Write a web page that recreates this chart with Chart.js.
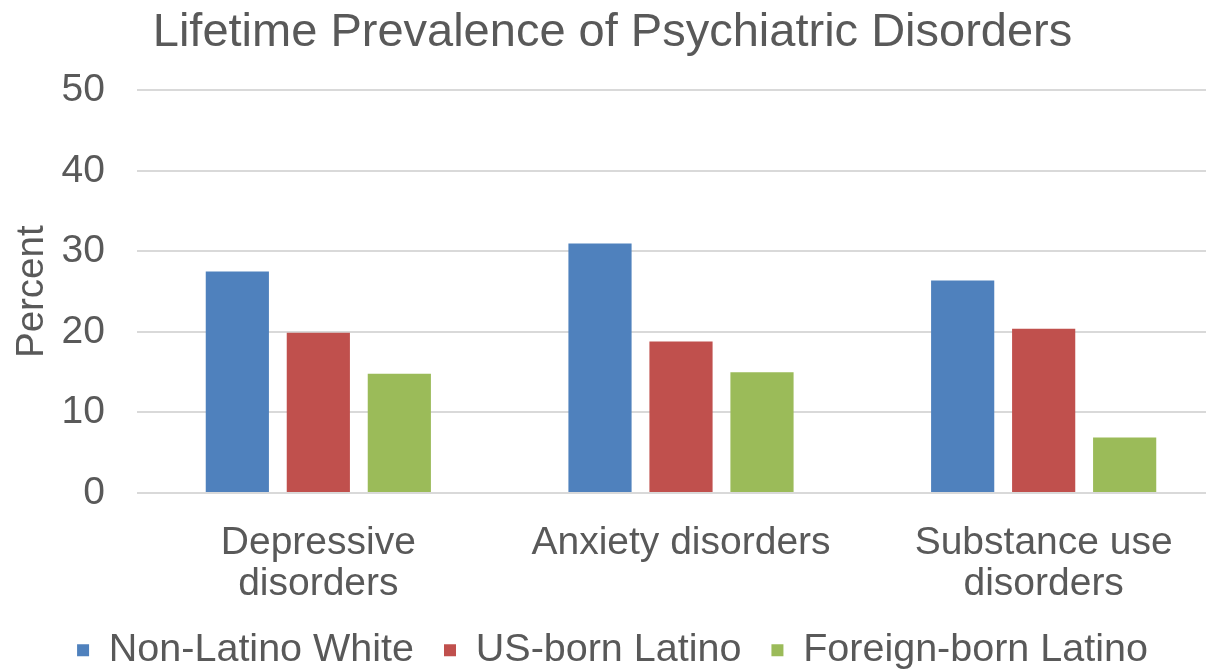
<!DOCTYPE html>
<html>
<head>
<meta charset="utf-8">
<script src="https://cdn.jsdelivr.net/npm/chart.js@4/dist/chart.umd.min.js"></script>
<style>
  html, body { margin: 0; padding: 0; background: #fff; overflow: hidden; }
  #wrap { width: 1230px; height: 670px; }
</style>
</head>
<body>
<div id="wrap"><canvas id="chart"></canvas></div>
<script>
// Datos
const categories = [['Depressive', 'disorders'], 'Anxiety disorders', ['Substance use', 'disorders']];
const seriesNames = ['Non-Latino White', 'US-born Latino', 'Foreign-born Latino'];
const nonLatinoWhite = [27.5, 31.0, 26.4];
const usBornLatino = [19.9, 18.8, 20.4];
const foreignBornLatino = [14.8, 15.0, 6.9];
const seriesColors = ['#4F81BD', '#C0504D', '#9BBB59'];

const textColor = '#595959';
const fontFamily = '"Liberation Sans", Arial, sans-serif';

const seriesValues = [nonLatinoWhite, usBornLatino, foreignBornLatino];
const datasets = seriesNames.map((name, i) => ({
    label: name,
    data: seriesValues[i],
    backgroundColor: seriesColors[i],
    borderWidth: 0,
    categoryPercentage: 0.67,
    barPercentage: 0.78
}));

new Chart(document.getElementById('chart').getContext('2d'), {
    type: 'bar',
    data: { labels: categories, datasets: datasets },
    options: {
        responsive: true,
        maintainAspectRatio: false,
        animation: false,
        layout: { padding: { top: 5, right: 5, bottom: -10, left: 0 } },
        plugins: {
            title: {
                display: true,
                text: 'Lifetime Prevalence of Psychiatric Disorders',
                color: textColor,
                font: { family: fontFamily, size: 47, weight: 'normal' },
                padding: { top: 0, bottom: 29 }
            },
            legend: {
                position: 'bottom',
                labels: {
                    color: textColor,
                    font: { family: fontFamily, size: 39.5, lineHeight: 1 },
                    boxWidth: 12,
                    boxHeight: 12,
                    padding: 30
                }
            },
            tooltip: { enabled: false }
        },
        scales: {
            x: {
                grid: { display: false },
                border: { display: false },
                ticks: {
                    color: textColor,
                    font: { family: fontFamily, size: 39, lineHeight: 1.05 },
                    padding: 22,
                    maxRotation: 0
                },
                afterFit: (scale) => { scale.height = 107.5; }
            },
            y: {
                min: 0,
                max: 50,
                ticks: {
                    stepSize: 10,
                    color: textColor,
                    font: { family: fontFamily, size: 39 },
                    padding: 32
                },
                grid: { color: '#d9d9d9', lineWidth: 2, drawTicks: false },
                border: { display: false },
                title: {
                    display: true,
                    text: 'Percent',
                    color: textColor,
                    font: { family: fontFamily, size: 38.5 },
                    padding: { top: 9, bottom: 0 }
                },
                afterFit: (scale) => { scale.width = 137; }
            }
        }
    }
});
</script>
</body>
</html>
